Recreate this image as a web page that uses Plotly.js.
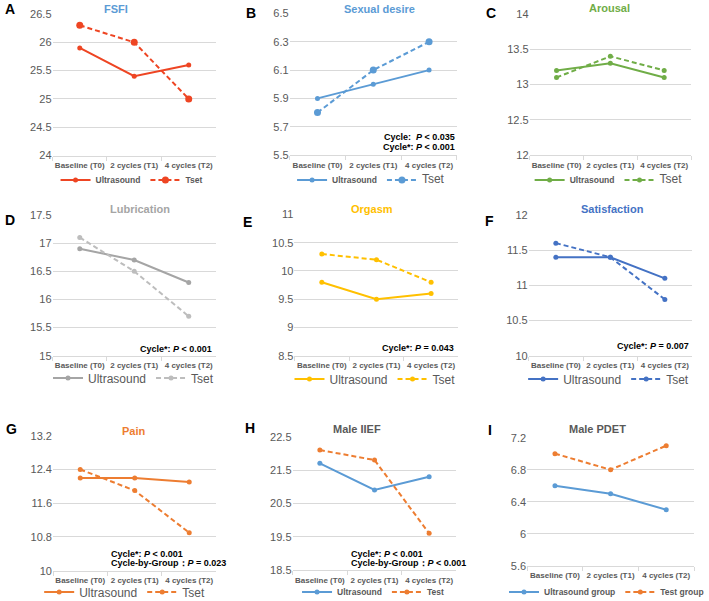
<!DOCTYPE html>
<html>
<head>
<meta charset="utf-8">
<script src="https://cdn.plot.ly/plotly-3.0.1.min.js"></script>
<style>
  html, body { margin: 0; padding: 0; background: #ffffff; width: 709px; height: 601px; overflow: hidden; }
  #frame { width: 709px; height: 601px; overflow: hidden; position: relative; }
  #chart { width: 709px; height: 620px; }
</style>
</head>
<body>
<div id="frame"><div id="chart"></div></div>
<script>
// Time points shared by every panel
const timepoints = ["Baseline (T0)", "2 cycles (T1)", "4 cycles (T2)"];

// Panel A: FSFI
const fsfiUltrasound = [25.9, 25.4, 25.6];
const fsfiTset = [26.3, 26.0, 25.0];
const fsfiTicks = [24, 24.5, 25, 25.5, 26, 26.5];
const fsfiTickText = ["24", "24.5", "25", "25.5", "26", "26.5"];

// Panel B: Sexual desire
const desireUltrasound = [5.9, 6.0, 6.1];
const desireTset = [5.8, 6.1, 6.3];
const desireTicks = [5.5, 5.7, 5.9, 6.1, 6.3, 6.5];
const desireTickText = ["5.5", "5.7", "5.9", "6.1", "6.3", "6.5"];

// Panel C: Arousal
const arousalUltrasound = [13.2, 13.3, 13.1];
const arousalTset = [13.1, 13.4, 13.2];
const arousalTicks = [12, 12.5, 13, 13.5, 14];
const arousalTickText = ["12", "12.5", "13", "13.5", "14"];

// Panel D: Lubrication
const lubricationUltrasound = [16.9, 16.7, 16.3];
const lubricationTset = [17.1, 16.5, 15.7];
const lubricationTicks = [15, 15.5, 16, 16.5, 17, 17.5];
const lubricationTickText = ["15", "15.5", "16", "16.5", "17", "17.5"];

// Panel E: Orgasm
const orgasmUltrasound = [9.8, 9.5, 9.6];
const orgasmTset = [10.3, 10.2, 9.8];
const orgasmTicks = [8.5, 9, 9.5, 10, 10.5, 11];
const orgasmTickText = ["8.5", "9", "9.5", "10", "10.5", "11"];

// Panel F: Satisfaction
const satisfactionUltrasound = [11.4, 11.4, 11.1];
const satisfactionTset = [11.6, 11.4, 10.8];
const satisfactionTicks = [10, 10.5, 11, 11.5, 12];
const satisfactionTickText = ["10", "10.5", "11", "11.5", "12"];

// Panel G: Pain
const painUltrasound = [12.2, 12.2, 12.1];
const painTset = [12.4, 11.9, 10.9];
const painTicks = [10, 10.8, 11.6, 12.4, 13.2];
const painTickText = ["10", "10.8", "11.6", "12.4", "13.2"];

// Panel H: Male IIEF
const iiefUltrasound = [21.7, 20.9, 21.3];
const iiefTest = [22.1, 21.8, 19.6];
const iiefTicks = [18.5, 19.5, 20.5, 21.5, 22.5];
const iiefTickText = ["18.5", "19.5", "20.5", "21.5", "22.5"];

// Panel I: Male PDET
const pdetUltrasound = [6.6, 6.5, 6.3];
const pdetTest = [7.0, 6.8, 7.1];
const pdetTicks = [5.6, 6.0, 6.4, 6.8, 7.2];
const pdetTickText = ["5.6", "6", "6.4", "6.8", "7.2"];

// Figure is a little taller than the visible frame so bottom legends can sit low
const W = 709, H = 620;
const FONT = "Liberation Sans, Arial, sans-serif";
const BIG = (s) => '<span style="font-size:12px;font-weight:normal">' + s + '</span>';

// Panel definitions: pixel box of each plot area and its styling
const panels = [
  { letter: "A", title: "FSFI", titleColor: "#5B9BD5", box: [53.5, 14, 220, 155.5],
    a: fsfiUltrasound, b: fsfiTset, aName: "Ultrasound", bName: "Tset",
    aColor: "#EE4523", bColor: "#EE4523", ticks: fsfiTicks, tickText: fsfiTickText,
    legendBig: false, legendX: 134, legendY: 180, aSize: 5, bSize: 7 },
  { letter: "B", title: "Sexual desire", titleColor: "#5B9BD5", box: [295, 13.5, 465.5, 155],
    a: desireUltrasound, b: desireTset, aName: "Ultrasound", bName: BIG("Tset"),
    aColor: "#5B9BD5", bColor: "#5B9BD5", ticks: desireTicks, tickText: desireTickText,
    legendBig: false, legendX: 378, legendY: 180, aSize: 5, bSize: 7 },
  { letter: "C", title: "Arousal", titleColor: "#70AD47", box: [539.5, 14, 704, 155],
    a: arousalUltrasound, b: arousalTset, aName: "Ultrasound", bName: BIG("Tset"),
    aColor: "#70AD47", bColor: "#70AD47", ticks: arousalTicks, tickText: arousalTickText,
    legendBig: false, legendX: 620, legendY: 180, aSize: 5, bSize: 5 },
  { letter: "D", title: "Lubrication", titleColor: "#A5A5A5", box: [53.5, 215, 220, 355.7],
    a: lubricationUltrasound, b: lubricationTset, aName: "Ultrasound", bName: "Tset",
    aColor: "#A5A5A5", bColor: "#BDBDBD", ticks: lubricationTicks, tickText: lubricationTickText,
    legendBig: true, legendX: 136, legendY: 378, aSize: 5, bSize: 5 },
  { letter: "E", title: "Orgasm", titleColor: "#FFC000", box: [300, 214.5, 467, 355.7],
    a: orgasmUltrasound, b: orgasmTset, aName: "Ultrasound", bName: "Tset",
    aColor: "#FFC000", bColor: "#FFC000", ticks: orgasmTicks, tickText: orgasmTickText,
    legendBig: true, legendX: 382, legendY: 379, aSize: 5, bSize: 5 },
  { letter: "F", title: "Satisfaction", titleColor: "#4472C4", box: [538.5, 215, 705, 355.7],
    a: satisfactionUltrasound, b: satisfactionTset, aName: "Ultrasound", bName: "Tset",
    aColor: "#4472C4", bColor: "#4472C4", ticks: satisfactionTicks, tickText: satisfactionTickText,
    legendBig: true, legendX: 620, legendY: 379, aSize: 5, bSize: 5 },
  { letter: "G", title: "Pain", titleColor: "#ED7D31", box: [54, 435.7, 220.5, 570.7],
    a: painUltrasound, b: painTset, aName: "Ultrasound", bName: "Tset",
    aColor: "#ED7D31", bColor: "#ED7D31", ticks: painTicks, tickText: painTickText,
    legendBig: true, legendX: 127, legendY: 592, aSize: 5, bSize: 5 },
  { letter: "H", title: "Male IIEF", titleColor: "#595959", box: [298, 436.7, 465, 570],
    a: iiefUltrasound, b: iiefTest, aName: "Ultrasound", bName: "Test",
    aColor: "#5B9BD5", bColor: "#ED7D31", ticks: iiefTicks, tickText: iiefTickText,
    legendBig: false, legendX: 380, legendY: 592, aSize: 5, bSize: 5 },
  { letter: "I", title: "Male PDET", titleColor: "#595959", box: [537, 437.7, 707, 565.7],
    a: pdetUltrasound, b: pdetTest, aName: "Ultrasound group", bName: "Test group",
    aColor: "#5B9BD5", bColor: "#ED7D31", ticks: pdetTicks, tickText: pdetTickText,
    legendBig: false, legendX: 618, legendY: 592, aSize: 5, bSize: 5 }
];

// Letter, title and statistics label positions (pixels)
const letterPos = [[3, 9], [249, 13], [493, 13], [3, 220], [245, 221.7], [492, 220.7], [4, 429], [248, 427.7], [495, 430]];
const titlePos = [[118, 9], [386.7, 9], [621, 8.5], [142.7, 209], [378.7, 209], [623.7, 209], [136.7, 430.7], [364, 429], [609, 429]];

const stats = [
  { text: "Cycle:  <i>P</i> < 0.035", x: 465.5, y: 137.3, anchor: "right" },
  { text: "Cycle*: <i>P</i> < 0.001", x: 465.5, y: 146.7, anchor: "right" },
  { text: "Cycle*: <i>P</i> < 0.001", x: 218.5, y: 349, anchor: "right" },
  { text: "Cycle*: <i>P</i> = 0.043", x: 465, y: 347.7, anchor: "right" },
  { text: "Cycle*: <i>P</i> = 0.007", x: 703.5, y: 345.7, anchor: "right" },
  { text: "Cycle*: <i>P</i> < 0.001", x: 111, y: 553.7, anchor: "left" },
  { text: "Cycle-by-Group：<i>P</i> = 0.023", x: 111, y: 563.3, anchor: "left" },
  { text: "Cycle*: <i>P</i> < 0.001", x: 355.3, y: 554, anchor: "left" },
  { text: "Cycle-by-Group：<i>P</i> < 0.001", x: 355.3, y: 563.3, anchor: "left" }
];

const px = (x) => x / W;
const py = (y) => (H - y) / H;

const data = [];
const layout = {
  width: W, height: H,
  margin: { l: 0, r: 0, t: 0, b: 0 },
  paper_bgcolor: "#ffffff",
  plot_bgcolor: "rgba(0,0,0,0)",
  font: { family: FONT, color: "#595959" },
  annotations: [],
  showlegend: true
};

panels.forEach((p, i) => {
  const n = i + 1;
  const xa = n === 1 ? "x" : "x" + n;
  const ya = n === 1 ? "y" : "y" + n;
  const lg = n === 1 ? "legend" : "legend" + n;

  data.push({
    x: timepoints, y: p.a, xaxis: xa, yaxis: ya, legend: lg,
    name: p.aName, type: "scatter", mode: "lines+markers",
    line: { color: p.aColor, width: 2 },
    marker: { color: p.aColor, size: p.aSize },
    cliponaxis: false
  });
  data.push({
    x: timepoints, y: p.b, xaxis: xa, yaxis: ya, legend: lg,
    name: p.bName, type: "scatter", mode: "lines+markers",
    line: { color: p.bColor, width: 2, dash: "5px,3px" },
    marker: { color: p.bColor, size: p.bSize },
    cliponaxis: false
  });

  const [x0, y0, x1, y1] = p.box;
  layout["xaxis" + (n === 1 ? "" : n)] = {
    domain: [px(x0), px(x1)],
    anchor: ya,
    type: "category",
    range: [-0.5, 2.5],
    showgrid: false,
    showline: true,
    linecolor: "#D9D9D9",
    linewidth: 1,
    ticks: "outside",
    tickson: "boundaries",
    ticklen: 4,
    tickcolor: "#D9D9D9",
    tickangle: 0,
    ticklabelstandoff: 2,
    tickfont: { family: FONT, size: 8, color: "#595959", weight: "bold" },
    fixedrange: true
  };
  layout["yaxis" + (n === 1 ? "" : n)] = {
    domain: [py(y1), py(y0)],
    anchor: xa,
    range: [p.ticks[0], p.ticks[p.ticks.length - 1] + 1e-9],
    tickmode: "array",
    tickvals: p.ticks,
    ticktext: p.tickText,
    showgrid: true,
    gridcolor: "#D9D9D9",
    gridwidth: 1,
    zeroline: false,
    showline: false,
    ticks: "",
    tickfont: { family: FONT, size: 11, color: "#595959" },
    fixedrange: true
  };

  layout[lg] = {
    orientation: "h",
    x: px(p.legendX), xanchor: "center",
    y: py(p.legendY), yanchor: "middle",
    itemwidth: 30,
    bgcolor: "rgba(0,0,0,0)",
    font: p.legendBig
      ? { family: FONT, size: 12, color: "#595959" }
      : { family: FONT, size: 8.5, color: "#595959", weight: "bold" },
    itemclick: false, itemdoubleclick: false
  };

  layout.annotations.push({
    text: p.letter, xref: "paper", yref: "paper",
    x: px(letterPos[i][0]), y: py(letterPos[i][1]),
    xanchor: "left", yanchor: "middle", showarrow: false,
    font: { family: FONT, size: 14, color: "#000000", weight: "bold" }
  });
  layout.annotations.push({
    text: p.title, xref: "paper", yref: "paper",
    x: px(titlePos[i][0]), y: py(titlePos[i][1]),
    xanchor: "center", yanchor: "middle", showarrow: false,
    font: { family: FONT, size: 11, color: p.titleColor, weight: "bold" }
  });
});

stats.forEach((s) => {
  layout.annotations.push({
    text: s.text, xref: "paper", yref: "paper",
    x: px(s.x), y: py(s.y),
    xanchor: s.anchor, yanchor: "middle", showarrow: false,
    font: { family: FONT, size: 9, color: "#000000", weight: "bold" }
  });
});

Plotly.newPlot("chart", data, layout, { displayModeBar: false, staticPlot: true });
</script>
</body>
</html>
